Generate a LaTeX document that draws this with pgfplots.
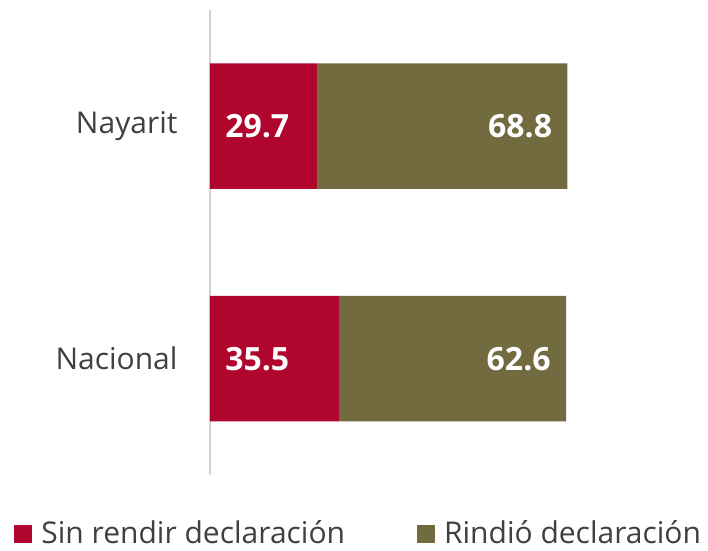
\documentclass[border=0pt]{standalone}
\usepackage{pgfplots}
\pgfplotsset{compat=1.18}
\usepackage{fontspec}
\setmainfont{Open Sans}
\definecolor{sinrojo}{HTML}{B0052D}
\definecolor{rindolivo}{HTML}{736B40}
\definecolor{etiq}{HTML}{404040}
\begin{document}
\begin{tikzpicture}
\begin{axis}[
    scale only axis,
    width=178.8pt, height=232.5pt,
    xbar stacked,
    bar width=62.75pt,
    xmin=0, xmax=98.5,
    ymin=-0.5, ymax=1.5,
    axis x line=none,
    axis y line=left,
    y axis line style={-, draw=gray!35, line width=0.8pt},
    ytick={0,1},
    yticklabels={Nacional,Nayarit},
    major tick length=0pt,
    yticklabel style={font=\fontsize{15}{18}\selectfont, text=etiq, inner sep=0pt, xshift=-16pt},
    clip=false,
    legend columns=2,
    legend style={at={(rel axis cs:0.419,-0.126)}, anchor=center, draw=none,
        inner sep=0pt, outer sep=0pt,
        font=\fontsize{15}{18}\selectfont, text=etiq,
        /tikz/every odd column/.append style={column sep=2.5pt},
        /tikz/every even column/.append style={column sep=34pt}},
    legend image code/.code={\fill[#1] (0pt,-4.5pt) rectangle (9pt,4.5pt);},
    /pgf/number format/assume math mode=true,
    nodes near coords={\pgfmathprintnumber[fixed,precision=1]{\pgfplotspointmeta}},
    every node near coord/.append style={font=\bfseries\fontsize{16}{19}\selectfont, text=white, inner sep=0pt},
    visualization depends on={rawx \as \xv},
]
% segment labels sit at the segment centre: shift them to the bar edges
\addplot[fill=sinrojo, draw=none,
    every node near coord/.append style={anchor=west, xshift={7.5pt-\xv*0.9076pt}}]
    coordinates {(35.5,0) (29.7,1)};
\addlegendentry{Sin rendir declaración}
\addplot[fill=rindolivo, draw=none,
    every node near coord/.append style={anchor=east, xshift={\xv*0.9076pt-7.5pt}}]
    coordinates {(62.6,0) (68.8,1)};
\addlegendentry{Rindió declaración}
\path (rel axis cs:-0.587,-0.157) rectangle (rel axis cs:1.393,1.0215);
\end{axis}
\end{tikzpicture}
\end{document}
